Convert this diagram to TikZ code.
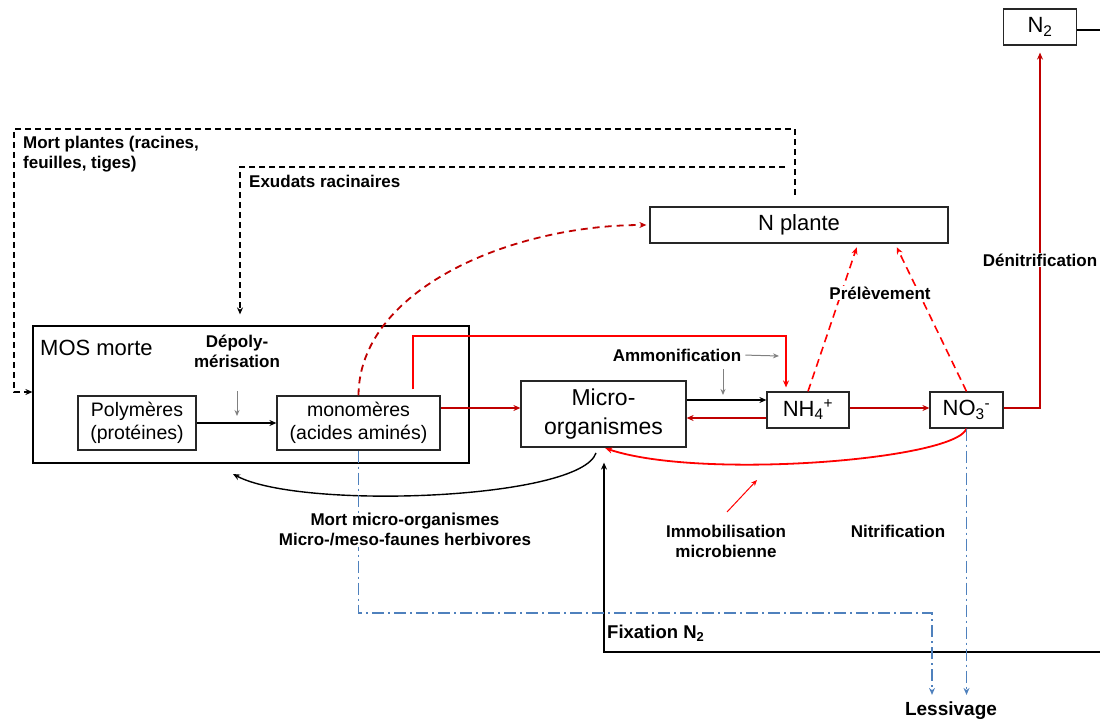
\documentclass[tikz,border=0pt]{standalone}
\usepackage{fontspec}
\setmainfont{Liberation Sans}
\usetikzlibrary{arrows.meta,calc}
\definecolor{dred}{RGB}{192,0,0}
\definecolor{bred}{RGB}{255,0,0}
\definecolor{lblue}{RGB}{79,129,189}
\definecolor{bgray}{RGB}{128,128,128}
\begin{document}
\begin{tikzpicture}[x=1pt,y=-1pt,
  box/.style={draw=black!85,line width=1.2pt,inner sep=0pt,align=center,fill=white},
  lab/.style={font=\fontsize{17}{20}\selectfont\bfseries,align=center,inner sep=1pt},
  bigtxt/.style={font=\fontsize{22}{26}\selectfont},
  midtxt/.style={font=\fontsize{19.5}{23.5}\selectfont},
  tip/.style={-{Stealth[length=7pt,width=6pt]}},
  blackdash/.style={line width=1.4pt,dash pattern=on 6pt off 4pt,tip},
  redline/.style={line width=1.8pt,tip},
  garr/.style={bgray,line width=1pt,-{Stealth[length=6pt,width=5pt]}},
  bluedd/.style={lblue,line width=1.4pt,dash pattern=on 12pt off 4pt on 2pt off 4pt,tip}]
\useasboundingbox (0,0) rectangle (1100,722);

% boxes
\node[box,minimum width=73pt,minimum height=36pt,bigtxt] (N2) at (1040,27) {N\textsubscript{2}};
\node[box,draw=black,minimum width=436pt,minimum height=137pt] (MOS) at (251,394.5) {};
\node[anchor=west,inner sep=0pt,bigtxt] (mostxt) at (40,348) {MOS morte};
\node[box,minimum width=118pt,minimum height=54pt,midtxt] (poly) at (137,423) {Polymères\\(protéines)};
\node[box,minimum width=163pt,minimum height=54pt,midtxt] (mono) at (358.5,423) {monomères\\(acides aminés)};
\node[box,minimum width=298pt,minimum height=36pt,bigtxt] (Nplante) at (799,225) {N plante};
\node[box,minimum width=165pt,minimum height=66pt,font=\fontsize{23}{29}\selectfont] (Micro) at (603.5,414) {Micro-\\organismes};
\node[box,minimum width=82pt,minimum height=36pt,bigtxt] (NH4) at (808,410) {NH\textsubscript{4}\textsuperscript{+}};
\node[box,minimum width=73pt,minimum height=36pt,bigtxt] (NO3) at (966.5,410) {NO\textsubscript{3}\textsuperscript{-}};

% labels
\node[lab,anchor=west,align=left] (mortpl) at (22,154) {Mort plantes (racines,\\feuilles, tiges)};
\node[lab,anchor=west] (exud) at (248,181) {Exudats racinaires};
\node[lab] (depol) at (237,351) {Dépoly-\\mérisation};
\node[lab] (ammo) at (677,355) {Ammonification};
\node[lab] (prel) at (880,293) {Prélèvement};
\node[lab] (denit) at (1040,260) {Dénitrification};
\node[lab] (mortmi) at (405,530) {Mort micro-organismes\\Micro-/meso-faunes herbivores};
\node[lab] (immo) at (726,541) {Immobilisation\\microbienne};
\node[lab] (nitri) at (898,531) {Nitrification};
\node[font=\fontsize{18.5}{21}\selectfont\bfseries,anchor=west,inner sep=0pt] (fix) at (607,633) {Fixation N\textsubscript{2}};
\node[font=\fontsize{19}{22}\selectfont\bfseries,inner sep=1pt] (lessiv) at (951,711) {Lessivage};

% coordinates for free ends
\coordinate (c1) at (795,195);
\coordinate (c2) at (785,167);
\coordinate (dp1) at (237,391);
\coordinate (dp2) at (237,416);
\coordinate (am1) at (779,356);
\coordinate (am2) at (723,369);
\coordinate (am3) at (723,395);
\coordinate (mb1) at (596,453);
\coordinate (mb2) at (233,474);
\coordinate (fx) at (1100,652);
\coordinate (n2r) at (1100,30);
\coordinate (im1) at (727,512);
\coordinate (im2) at (757,480);

% black dashed plant lines
\draw[blackdash] (c1) -- (795,129) -- (14,129) -- (14,392) -- (MOS.west |- 0,392);
\draw[blackdash,shorten >=11pt] (c2) -- (240,167) -- (240,0 |- MOS.north);

% depolymerisation
\draw[black,line width=1.4pt,tip] (poly.east) -- (mono.west);
\draw[garr] (dp1) -- (dp2);

% monomeres -> N plante (dashed curve)
\draw[dred,line width=1.8pt,dash pattern=on 7pt off 5pt,tip,shorten >=3pt]
  (mono.north) .. controls (359,290) and (510,225) .. (Nplante.west);

% monomeres -> NH4
\draw[bred,redline,shorten <=6pt,shorten >=4pt] (mono.north -| 413,0) -- (413,336) -- (786,336) -- (NH4.north -| 786,0);

% monomeres -> Micro
\draw[dred,redline] (mono.east |- 0,408) -- (Micro.west |- 0,408);

% ammonification
\draw[garr,shorten <=3pt] (ammo.east) -- (am1);
\draw[garr] (am2) -- (am3);
\draw[black,line width=1.4pt,tip] (Micro.east |- 0,400) -- (NH4.west |- 0,400);
\draw[dred,redline] (NH4.west |- 0,418) -- (Micro.east |- 0,418);

% nitrification
\draw[dred,redline] (NH4.east |- 0,408) -- (NO3.west |- 0,408);

% denitrification
\draw[dred,redline,shorten >=7pt] (NO3.east |- 0,408) -- (1040,408) -- (N2.south);
\draw[black,line width=1.4pt] (N2.east |- 0,30) -- (n2r);
\node[lab,fill=white] at (denit) {Dénitrification};

% prelevement
\draw[bred,line width=1.6pt,dash pattern=on 8pt off 5pt,tip,shorten >=4pt] (NH4.north) -- (Nplante.south -| 858,0);
\draw[bred,line width=1.6pt,dash pattern=on 8pt off 5pt,tip,shorten >=4pt] (NO3.north) -- (Nplante.south -| 895,0);
\node[lab,fill=white] at (prel) {Prélèvement};

% immobilisation
\draw[bred,redline,shorten >=2pt] (NO3.south) .. controls (955,460) and (700,480) .. (Micro.south);
\draw[bred,line width=1pt,-{Stealth[length=6pt,width=5pt]}] (im1) -- (im2);

% mort micro-organismes
\draw[black,line width=1.4pt,tip] (mb1) .. controls (580,500) and (300,510) .. (mb2);

% fixation N2
\draw[black,line width=1.4pt,tip,shorten >=15pt] (fx) -- (604,652) -- (Micro.south -| 604,0);

% lessivage
\draw[bluedd,shorten >=6pt] (mono.south) -- (358.5,613) -- (932,613) -- (lessiv.north -| 932,0);
\draw[bluedd,shorten >=6pt] (NO3.south) -- (lessiv.north -| 966.5,0);
\node[lab,fill=white] at (mortmi) {Mort micro-organismes\\Micro-/meso-faunes herbivores};
\end{tikzpicture}
\end{document}
